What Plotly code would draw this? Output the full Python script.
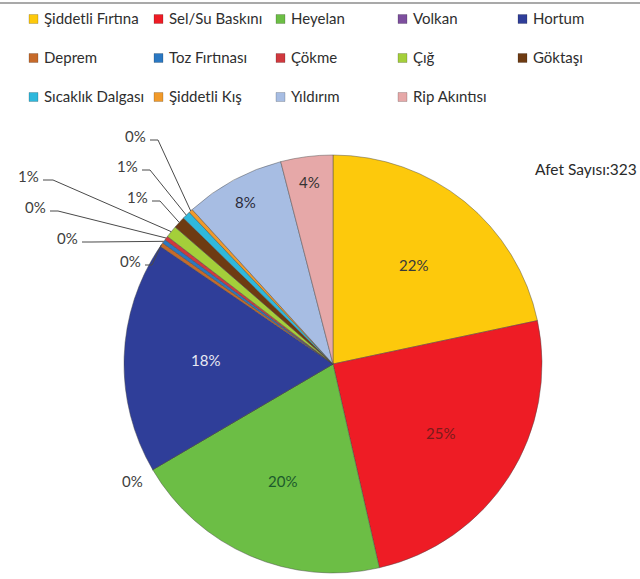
import math
import plotly.graph_objects as go

# Disaster categories, event counts and slice colours
categories = ["Şiddetli Fırtına", "Sel/Su Baskını", "Heyelan", "Volkan", "Hortum",
              "Deprem", "Toz Fırtınası", "Çökme", "Çığ", "Göktaşı",
              "Sıcaklık Dalgası", "Şiddetli Kış", "Yıldırım", "Rip Akıntısı"]
counts = [70, 80, 65, 0, 58, 1, 1, 1, 3, 3, 2, 1, 25, 13]
colors = ["#FDC90C", "#EE1C25", "#6CBE45", "#7D4F9E", "#2F3E99",
          "#C66A2A", "#2A78C2", "#D0393E", "#A4CF3A", "#6E3B12",
          "#2FB8DC", "#F19A2A", "#A7BDE3", "#E6A8A8"]
total_label = "Afet Sayısı:323"

W, H = 640, 579
CX, CY, R = 333, 364, 209

# key grid: five columns, three rows (text start x, row centre y in px)
KEY_COLS = [42, 167, 289, 411, 531]
KEY_ROWS = [18, 57, 96]


def px(x):
    return x / W


def py(y):
    return 1 - y / H


total = sum(counts)
pct = [100 * c / total for c in counts]
pct_text = [f"{int(math.floor(p + 0.5))}%" for p in pct]

# mid angle of each slice, clockwise from 12 o'clock
mid_angle = []
acc = 0
for c in counts:
    mid_angle.append((acc + c / 2) / total * 360)
    acc += c


def polar(angle_deg, frac):
    a = math.radians(angle_deg)
    return CX + frac * R * math.sin(a), CY - frac * R * math.cos(a)


fig = go.Figure()
fig.add_trace(go.Pie(
    labels=categories, values=counts, sort=False, direction="clockwise",
    rotation=0, marker=dict(colors=colors, line=dict(color="rgba(70,70,70,0.45)", width=1)),
    textinfo="none", hoverinfo="label+value+percent", showlegend=False,
    domain=dict(x=[px(CX - R), px(CX + R)], y=[py(CY + R), py(CY - R)]),
))

annotations = []
shapes = []
text_font = dict(family="Lato", size=15)


def label(x, y, text, color, **kw):
    d = dict(x=px(x), y=py(y), xref="paper", yref="paper", text=text,
             showarrow=False, xanchor="center", yanchor="middle",
             font=dict(text_font, color=color))
    d.update(kw)
    return d


# category key across the top
for k, (name, col) in enumerate(zip(categories, colors)):
    tx = KEY_COLS[k % 5]
    ty = KEY_ROWS[k // 5]
    shapes.append(dict(type="rect", xref="paper", yref="paper",
                       x0=px(tx - 13), x1=px(tx - 4), y0=py(ty + 5.5), y1=py(ty - 3.5),
                       fillcolor=col, line=dict(color="rgba(0,0,0,0.3)", width=0.6)))
    annotations.append(label(tx, ty, name, "#2e2e2e", xanchor="left",
                             font=dict(family="Lato", size=15, color="#2e2e2e")))

# labels drawn inside the slices
inside = {
    "Şiddetli Fırtına": (0.61, "#3a3a3a"),
    "Sel/Su Baskını": (0.61, "#7a1b1b"),
    "Heyelan": (0.61, "#1c5a2c"),
    "Hortum": (0.61, "#e8e8f2"),
    "Yıldırım": (0.88, "#2a2a3a"),
    "Rip Akıntısı": (0.88, "#333333"),
}
for i, name in enumerate(categories):
    if name in inside:
        frac, col = inside[name]
        x, y = polar(mid_angle[i], frac)
        annotations.append(label(x, y, pct_text[i], col))

# outside label of the empty slice
vi = categories.index("Volkan")
vx, vy = polar(mid_angle[vi], 1.11)
annotations.append(label(vx, vy, pct_text[vi], "#404040"))

# outside labels with leader lines for the thin slices: text centre and elbow x
small_labels = {
    "Şiddetli Kış": (135, 136, 158),
    "Sıcaklık Dalgası": (127, 166, 150),
    "Göktaşı": (137, 197, 160),
    "Çığ": (28, 176, 53),
    "Çökme": (35, 207, 58),
    "Toz Fırtınası": (67, 238, 92),
    "Deprem": (130, 261, 152),
}
for name, (tx, ty, ex) in small_labels.items():
    i = categories.index(name)
    annotations.append(label(tx, ty, pct_text[i], "#404040"))
    sx, sy = polar(mid_angle[i], 1.0)
    ly = ty + 4
    x0 = tx + 15
    path = (f"M {px(x0)},{py(ly)} L {px(ex)},{py(ly)} L {px(sx)},{py(sy)}")
    shapes.append(dict(type="path", path=path, xref="paper", yref="paper",
                       line=dict(color="#4a4a4a", width=1)))

annotations.append(label(639, 169, total_label, "#2a2a2a", xanchor="right",
                         font=dict(family="Lato", size=15.5, color="#2a2a2a")))

# thin rule along the top edge
shapes.append(dict(type="line", xref="paper", yref="paper", x0=0, x1=1,
                   y0=py(3), y1=py(3), line=dict(color="#8c8c8c", width=1.5)))

fig.update_layout(
    width=W, height=H, margin=dict(l=0, r=0, t=0, b=0),
    paper_bgcolor="white", plot_bgcolor="white", showlegend=False,
    annotations=annotations, shapes=shapes,
)

fig.write_html("out.html")
